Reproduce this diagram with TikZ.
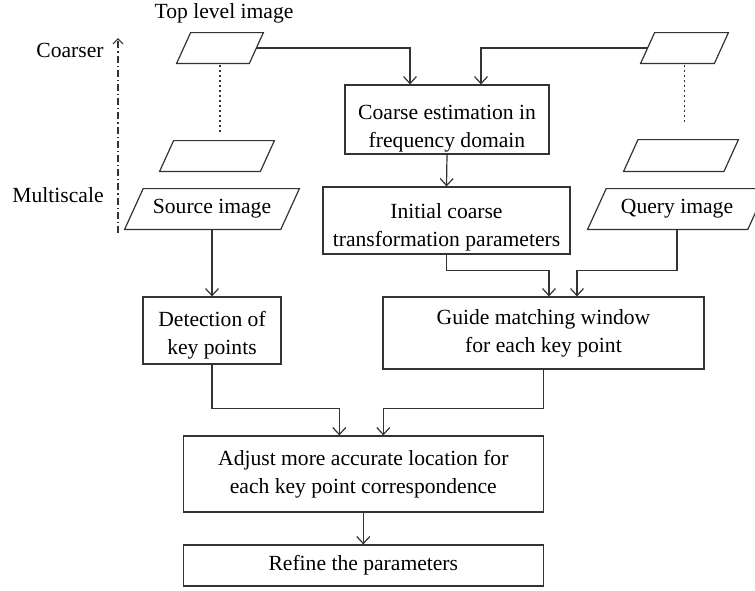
\documentclass[tikz,border=0pt]{standalone}
\usepackage{fontspec}
\setmainfont{Liberation Serif}
\usetikzlibrary{arrows.meta,calc}
\newcommand\drawpara[2]{\draw[ln] ([xshift=#2]#1.north west) -- ([xshift=#2]#1.north east) -- ([xshift=-#2]#1.south east) -- ([xshift=-#2]#1.south west) -- cycle;}
\newcommand\twoline[3][0pt]{\raisebox{-#1}[\height][\depth]{\begin{tabular}{@{}c@{}}#2\\#3\end{tabular}}}
\begin{document}
\begin{tikzpicture}[x=0.5pt,y=-0.5pt,
  every node/.style={font=\fontsize{10.8}{14}\selectfont, text=black},
  ln/.style={draw=black!80, line width=0.6pt},
  arr/.style={ln, -{Straight Barb[length=3.5pt,width=6.5pt]}},
  box/.style={ln, rectangle, inner sep=0pt, align=center},
  pbox/.style={rectangle, inner sep=0pt, align=center},
  dotln/.style={ln, line width=0.7pt, dash pattern=on 0.6pt off 1.9pt},
  dashdotln/.style={ln, dash pattern=on 3.5pt off 1.5pt on 0.6pt off 1.5pt},
  lbl/.style={inner sep=0pt}
]
\useasboundingbox (0,0) rectangle (755,590);

% labels
\node[lbl] (toplbl) at (224,13) {Top level image};
\node[lbl, anchor=east] (coarser) at (104,50) {Coarser};
\node[lbl, anchor=east] (multi) at (104,195) {Multiscale};

% multiscale arrow
\coordinate (mbot) at (118,233);
\coordinate (mtop) at (118,38);
\draw[dashdotln, -{Straight Barb[length=2.5pt,width=5pt]}] (mbot) -- (mtop);

% parallelograms left
\node[pbox, minimum width=36pt, minimum height=15pt] (topL) at (220,48) {};
\node[pbox, minimum width=50pt, minimum height=15pt] (midL) at (217,156) {};
\node[pbox, minimum width=77.7pt, minimum height=20pt] (src) at (212,209) {Source image};
\drawpara{topL}{3.5pt}
\drawpara{midL}{3.5pt}
\drawpara{src}{4.65pt}

% parallelograms right
\node[pbox, minimum width=36.5pt, minimum height=15pt] (topR) at (684.5,48) {};
\node[pbox, minimum width=49.8pt, minimum height=15.5pt] (midR) at (681,155.5) {};
\node[pbox, minimum width=79.7pt, minimum height=20pt] (qry) at (677,209) {Query image};
\drawpara{topR}{3.5pt}
\drawpara{midR}{3.6pt}
\drawpara{qry}{4.65pt}

% boxes
\node[box, minimum width=102pt, minimum height=34.5pt] (coarse) at (447,119.5)
  {\twoline[4pt]{Coarse estimation in}{frequency domain}};
\node[box, minimum width=123.5pt, minimum height=33.5pt] (init) at (446.5,220.5)
  {\twoline[3pt]{Initial coarse}{transformation parameters}};
\node[box, minimum width=69pt, minimum height=33.5pt] (det) at (212,330.5)
  {\twoline[2pt]{Detection of}{key points}};
\node[box, minimum width=160.5pt, minimum height=36pt] (guide) at (543.5,333)
  {\twoline{Guide matching window}{for each key point}};
\node[box, minimum width=180pt, minimum height=38pt] (adj) at (363.3,474)
  {\twoline{Adjust more accurate location for}{each key point correspondence}};
\node[box, minimum width=180pt, minimum height=20.5pt] (ref) at (363.3,565.5)
  {Refine the parameters};

% dotted links
\draw[dotln, shorten <=1pt, shorten >=4.5pt] (topL.south) -- (topL.south |- midL.north);
\draw[dotln, shorten <=1pt, shorten >=7.5pt] (topR.south) -- (topR.south |- midR.north);

% connectors
\draw[arr] (topL.east) -| ([xshift=-18.5pt]coarse.north);
\draw[arr] (topR.west) -| ([xshift=17pt]coarse.north);
\draw[arr] (coarse.south) -- (init.north);
\draw[arr] (init.south) -- ++(0,16) -| ([xshift=2.75pt]guide.north);
\draw[arr] (qry.south) -- ++(0,41) -| ([xshift=16.75pt]guide.north);
\draw[arr] (src.south) -- (det.north);
\draw[arr] (det.south) -- ++(0,44) -| ([xshift=-12pt]adj.north);
\draw[arr] (guide.south) -- ++(0,39) -| ([xshift=10pt]adj.north);
\draw[arr] (adj.south) -- (ref.north);
\end{tikzpicture}
\end{document}
